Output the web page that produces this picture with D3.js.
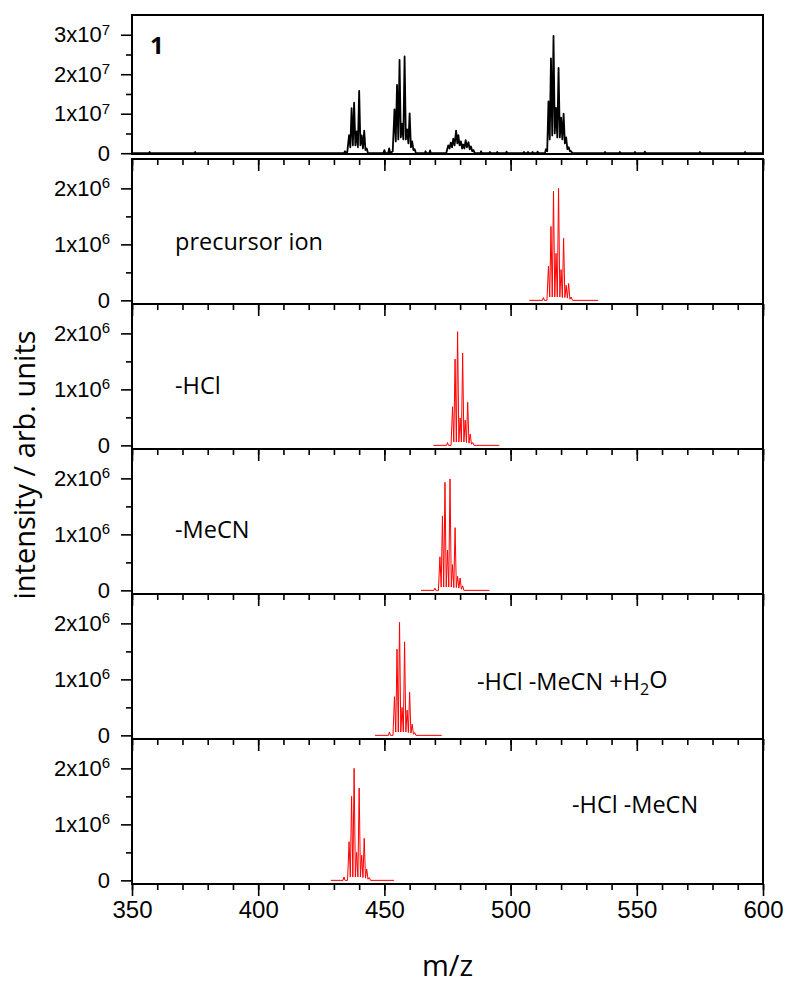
<!DOCTYPE html>
<html><head><meta charset="utf-8">
<script src="https://cdn.jsdelivr.net/npm/d3@7"></script>
<style>
body{margin:0;background:#fff}
svg{display:block;font-family:"Open Sans",sans-serif}
</style></head><body>
<svg id="chart" width="787" height="987"></svg>
<script>
// ---- axis settings ----
const mzDomain = [350, 600];
const xMajorTicks = [350, 400, 450, 500, 550, 600];
const xMinorTicks = d3.range(350, 601, 10);

const topMajorTicks = [0, 1, 2, 3];        // x10^7
const topMinorTicks = [0.5, 1.5, 2.5];
const simMajorTicks = [0, 1, 2];           // x10^6
const simMinorTicks = [0.5, 1.5];

// ---- measured spectrum (intensity in units of 1e7) ----
const measuredProfile = [
  [350,0],[356.6,0],[357,0.03],[357.4,0],
  [374.6,0],[375,0.03],[375.4,0],
  [434,0],[434.4,0.05],[434.8,0],
  [435.3,0.03],[436,0.46],[436.5,0.15],[437,1.14],[437.5,0.2],[438,1.28],[438.5,0.2],[439,0.55],[439.5,0.15],
  [440,1.58],[440.5,0.2],[441,0.45],[441.5,0.12],[442,0.57],[442.5,0.08],[443,0.12],[443.5,0],
  [449.6,0],[450,0.08],[450.4,0],[451.5,0],[451.9,0.12],[452.3,0],
  [453.3,0.05],[454,1.11],[454.5,0.3],[455,1.73],[455.5,0.35],[456,2.36],[456.5,0.4],[457,0.75],[457.5,0.35],
  [458,2.45],[458.5,0.35],[459,0.6],[459.5,0.25],[460,1.01],[460.5,0.15],[461,0.3],[461.5,0.08],[462,0.1],[462.5,0],
  [466,0],[466.3,0.05],[466.6,0],[467.8,0],[468.1,0.07],[468.4,0],
  [474.5,0],[475.3,0.2],[475.8,0.12],[476.3,0.27],[476.8,0.15],[477.3,0.37],[477.8,0.2],[478.4,0.57],[478.9,0.25],
  [479.3,0.46],[479.8,0.2],[480.3,0.3],[480.8,0.12],[481.2,0.22],[481.7,0.12],[482.2,0.33],[482.7,0.15],
  [483.3,0.28],[483.8,0.1],[484.3,0.17],[484.8,0.05],[485.3,0.08],[485.8,0],
  [488,0],[488.3,0.05],[488.6,0],
  [491.5,0],[491.8,0.03],[492.1,0],
  [494.4,0],[494.7,0.03],[495,0],
  [498.1,0],[498.4,0.04],[498.7,0],
  [505,0],[505.3,0.03],[505.6,0],[506.6,0],[506.9,0.03],[507.2,0],[508.4,0],[508.7,0.03],[509,0],[510.4,0],[510.7,0.04],[511,0],
  [513.6,0],[514,0.1],[514.5,0.05],[515,1.31],[515.5,0.35],[516,2.4],[516.5,0.45],[517,2.97],[517.5,0.5],
  [518,1.15],[518.5,0.4],[519,2.16],[519.5,0.4],[520,0.9],[520.5,0.35],[521,1.0],[521.5,0.25],[522,0.4],
  [522.5,0.1],[523,0.15],[523.5,0.05],[524,0.05],[524.5,0],
  [537.1,0],[537.4,0.03],[537.7,0],[543,0],[543.3,0.03],[543.6,0],[549,0],[549.3,0.03],[549.6,0],
  [552.9,0],[553.2,0.04],[553.5,0],[574.7,0],[575,0.03],[575.3,0],[592.6,0],[592.9,0.03],[593.2,0],
  [600,0]
];

// ---- simulated isotope patterns (intensity in units of 1e6) ----
const precursorProfile = [
  [507.4,0],[512.6,0],[513,0.05],[513.4,0],[514.4,0],[515,0.61],[515.5,0.06],[516,1.32],[516.5,0.06],
  [517,1.95],[517.5,0.06],[518,0.84],[518.5,0.06],[519,2.0],[519.5,0.06],[520,0.55],[520.5,0.05],
  [521,1.11],[521.5,0.05],[522,0.27],[522.5,0.04],[523,0.30],[523.5,0.02],[524,0.06],[524.5,0],[534.7,0]
];
const lossHClProfile = [
  [469.4,0],[474.6,0],[475,0.05],[475.4,0],[476.4,0],[477,0.69],[477.5,0.06],[478,1.54],[478.5,0.06],
  [479,2.03],[479.5,0.06],[480,0.49],[480.5,0.06],[481,1.65],[481.5,0.06],[482,0.45],[482.5,0.05],
  [483,0.77],[483.5,0.04],[484,0.2],[484.5,0.02],[485,0.05],[485.5,0],[495.5,0]
];
const lossMeCNProfile = [
  [464.5,0],[469.6,0],[470,0.04],[470.4,0],[471.4,0],[472,0.6],[472.5,0.06],[473,1.33],[473.5,0.06],
  [474,1.93],[474.5,0.06],[475,0.72],[475.5,0.06],[476,1.99],[476.5,0.06],[477,0.46],[477.5,0.05],
  [478,1.12],[478.5,0.05],[479,0.25],[479.5,0.04],[480,0.22],[480.5,0.02],[481,0.08],[481.5,0],[491.6,0]
];
const lossBothPlusWaterProfile = [
  [446.3,0],[451.6,0],[452,0.06],[452.4,0],[453.4,0],[454,0.69],[454.5,0.06],[455,1.54],[455.5,0.06],
  [456,2.02],[456.5,0.06],[457,0.5],[457.5,0.06],[458,1.67],[458.5,0.06],[459,0.45],[459.5,0.05],
  [460,0.77],[460.5,0.04],[461,0.2],[461.5,0.02],[462,0.05],[462.5,0],[472.7,0]
];
const lossBothProfile = [
  [428.8,0],[433.6,0],[434,0.06],[434.4,0],[435.4,0],[436,0.69],[436.5,0.06],[437,1.5],[437.5,0.06],
  [438,2.0],[438.5,0.06],[439,0.5],[439.5,0.06],[440,1.65],[440.5,0.06],[441,0.45],[441.5,0.05],
  [442,0.75],[442.5,0.04],[443,0.2],[443.5,0.02],[444,0.05],[444.5,0],[453.8,0]
];

const simPanels = [
  {profile: precursorProfile,         label: "precursor ion", lx: 175, ly: 250},
  {profile: lossHClProfile,           label: "-HCl",          lx: 175, ly: 394},
  {profile: lossMeCNProfile,          label: "-MeCN",         lx: 175, ly: 538},
  {profile: lossBothPlusWaterProfile, label: "H2O",           lx: 477, ly: 690},
  {profile: lossBothProfile,          label: "-HCl -MeCN",    lx: 572, ly: 813}
];

// ---- layout ----
const svg = d3.select("#chart");
const left = 132, right = 763;
const x = d3.scaleLinear().domain(mzDomain).range([left, right]);

const topBox = {top: 15, bottom: 154};
const simTop = 159, simH = 145;

function yLabels(sel, exp) {
  sel.selectAll(".tick text").each(function(d) {
    const t = d3.select(this);
    t.text(null);
    if (d === 0) { t.text("0"); return; }
    t.append("tspan").text(d + "x10");
    t.append("tspan").attr("dy", "-0.5em").style("font-size", "15px").text(exp);
  });
}

function drawYAxis(g, y, majors, minors, exp) {
  g.append("g").call(d3.axisLeft(y).tickValues(minors).tickSize(6).tickSizeOuter(0).tickFormat(""));
  const ga = g.append("g").call(d3.axisLeft(y).tickValues(majors).tickSize(11).tickSizeOuter(0).tickPadding(11));
  ga.selectAll(".tick text").style("font-size", "22px").attr("fill", "#000");
  yLabels(ga, exp);
}

function styleAxes(sel) {
  sel.selectAll(".domain").remove();
  sel.selectAll(".tick line").attr("stroke", "#000").attr("stroke-width", 1.6);
}

const line = (y) => d3.line().x(d => x(d[0])).y(d => y(d[1]));

// ---- top panel: measured spectrum ----
{
  const y = d3.scaleLinear().domain([-0.02, 3.5]).range([topBox.bottom, topBox.top]);
  const g = svg.append("g");
  g.append("path").datum(measuredProfile).attr("d", line(y))
    .attr("fill", "none").attr("stroke", "#000").attr("stroke-width", 1.8).attr("stroke-linejoin", "round");
  const ax = g.append("g").attr("transform", `translate(${left},0)`);
  drawYAxis(ax, y, topMajorTicks, topMinorTicks, "7");
  styleAxes(ax);
  g.append("rect").attr("x", left).attr("y", topBox.top).attr("width", right - left)
    .attr("height", topBox.bottom - topBox.top).attr("fill", "none").attr("stroke", "#000").attr("stroke-width", 2);
  g.append("text").attr("x", 150).attr("y", 54).style("font-size", "24px").style("font-weight", "bold").text("1");
}

// ---- simulated panels ----
simPanels.forEach((p, i) => {
  const top = simTop + i * simH, bottom = top + simH;
  const y = d3.scaleLinear().domain([-0.065, 2.525]).range([bottom, top]);
  const g = svg.append("g");
  g.append("path").datum(p.profile).attr("d", line(y))
    .attr("fill", "none").attr("stroke", "#ff0000").attr("stroke-width", 1).attr("stroke-linejoin", "round");

  const ax = g.append("g").attr("transform", `translate(${left},0)`);
  drawYAxis(ax, y, simMajorTicks, simMinorTicks, "6");

  const bx = g.append("g").attr("transform", `translate(0,${bottom})`);
  bx.append("g").call(d3.axisBottom(x).tickValues(xMinorTicks).tickSize(6).tickSizeOuter(0).tickFormat(""));
  const bm = bx.append("g").call(d3.axisBottom(x).tickValues(xMajorTicks).tickSize(12).tickSizeOuter(0).tickPadding(5));
  bm.selectAll(".tick text").style("font-size", "24px").attr("fill", "#000");
  if (i < simPanels.length - 1) bm.selectAll(".tick text").remove();
  styleAxes(ax); styleAxes(bx);

  if (i === 0) {
    const tx = g.append("g").attr("transform", `translate(0,${top})`);
    tx.append("g").call(d3.axisBottom(x).tickValues(xMinorTicks).tickSize(6).tickSizeOuter(0).tickFormat(""));
    tx.append("g").call(d3.axisBottom(x).tickValues(xMajorTicks).tickSize(12).tickSizeOuter(0).tickFormat(""));
    styleAxes(tx);
  }

  g.append("rect").attr("x", left).attr("y", top).attr("width", right - left)
    .attr("height", simH).attr("fill", "none").attr("stroke", "#000").attr("stroke-width", 2);

  const t = g.append("text").attr("x", p.lx).attr("y", p.ly).style("font-size", "23.5px");
  if (p.label === "H2O") {
    t.append("tspan").text("-HCl -MeCN +H");
    t.append("tspan").attr("dy", "0.3em").style("font-size", "16px").text("2");
    t.append("tspan").attr("dy", "-0.3em").text("O");
  } else {
    t.text(p.label);
  }
});

// ---- axis titles ----
svg.append("text").attr("x", (left + right) / 2).attr("y", 976).attr("text-anchor", "middle")
  .style("font-size", "29px").text("m/z");
svg.append("text").attr("transform", "translate(35,465) rotate(-90)").attr("text-anchor", "middle")
  .style("font-size", "29px").text("intensity / arb. units");
</script>
</body></html>
